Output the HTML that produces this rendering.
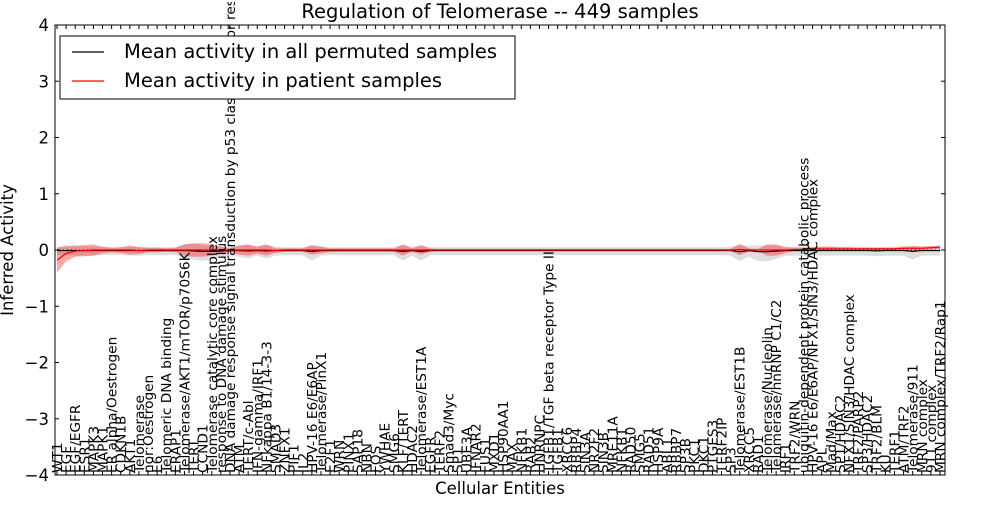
<!DOCTYPE html>
<html><head><meta charset="utf-8"><style>
body{margin:0;background:#fff;}
svg text{font-family:"DejaVu Sans","Liberation Sans",sans-serif;}
</style></head><body>
<svg id="chart" width="1000" height="500" xmlns="http://www.w3.org/2000/svg">
<rect x="0" y="0" width="1000" height="500" fill="#fff"/>
<g id="bands"></g><g id="lines"></g>
<g id="axes"></g><g id="xlabels"></g>
<rect x="0" y="0" width="1000" height="2" fill="#fff"/>
<text x="500" y="18" font-size="19.5" text-anchor="middle">Regulation of Telomerase -- 449 samples</text>
<text transform="translate(13,250) rotate(-90)" font-size="16.5" text-anchor="middle">Inferred Activity</text>
<text x="500" y="494" font-size="16.5" text-anchor="middle">Cellular Entities</text>
<g>
<rect x="60" y="36" width="455" height="63" fill="#fff" stroke="#000" stroke-width="1"/>
<line x1="72" y1="52" x2="104" y2="52" stroke="#000" stroke-width="1.2"/>
<text x="124" y="58" font-size="19.5">Mean activity in all permuted samples</text>
<line x1="72" y1="81" x2="104" y2="81" stroke="#f00" stroke-width="1.2"/>
<text x="124" y="87" font-size="19.5">Mean activity in patient samples</text>
</g>
</svg>
<script>
const labels=["WT1","EGF","EGF/EGFR","ESR1","MAPK3","MAPK1","ER alpha/Oestrogen","CDKN1B","AKT1","Telomerase","nor:Oestrogen","E6","Telomeric DNA binding","ERAP1","Telomerase/AKT1/mTOR/p70S6K","TERT","CCND1","Telomerase catalytic core complex","response to DNA damage stimulus","DNA damage response signal transduction by p53 class mediator resulting","ATM","TERT/c-Abl","IFN-gamma/IRF1","NFkappa B1/14-3-3","SMAD3","ZNFX1","PIF1","IL2","HPV-16 E6/E6AP","Telomerase/PinX1","E2F1","WRN","PINX1","SAP18","NBN","FOS","YWHAE","SMG6","KLF/TERT","HDAC2","Telomerase/EST1A","EGFR","TERF2","Smad3/Myc","SP1","UBE3A","IFNAR2","FUS1","MXD1","HSP90AA1","MAX","NFKB1","RAB2","HNRNPC","TGFB1/TGF beta receptor Type II","TGFB1","XRCC6","RBBP4","SIN3A","NR2F2","SIN3B","MRE11A","NFKB1","RAD50","SMG5","RAD51","HSP9A","ABL1","RBBP7","SP3B","PKC1","DKC1","PTGES3","TERF2IP","SP3","Telomerase/EST1B","XRCC5","RAD1","Telomerase/Nucleolin","Telomerase/hnRNP C1/C2","IRF1","TRF2/WRN","ubiquitin-dependent protein catabolic process","HPV-16 E6/E6AP/NFX1/SIN3/HDAC complex","APL","Mad/Max","SP1/HDAC2","NFX1/SIN3/HDAC complex","TRF2/PARP2","SP3/HDAC2","TRF2/BLM","KU","TERF1","ATM/TRF2","Telomerase/911","MRN complex","911 complex","MRN complex/TRF2/Rap1"];
const patientMean=[-0.18,-0.06,-0.02,-0.01,0,0,0,0,0,-0.01, 0,0,0,0,0,0,0,0,0,0, 0,0,0,0,-0.01,0,0,0,0,0, 0,0,0,0,0,0,0,0,0,0, 0,0,0,0,0,0,0,0,0,0, 0,0,0,0,0,0,0,0,0,0, 0,0,0,0,0,0,0,0,0,0, 0,0,0,0,0,0.01,0,0,0,0, 0,0.01,0.01,0.02,0.02,0.02,0.02,0.02,0.02,0.02, 0.02,0.02,0.02,0.03,0.03,0.03,0.04,0.05];
const patientSpread=[0.22,0.14,0.1,0.1,0.1,0.06,0.04,0.05,0.08,0.06, 0.04,0.04,0.03,0.04,0.1,0.12,0.12,0.1,0.06,0.03, 0.08,0.1,0.06,0.1,0.04,0.03,0.03,0.03,0.08,0.06, 0.03,0.03,0.03,0.03,0.03,0.03,0.03,0.03,0.1,0.03, 0.08,0.03,0.02,0.02,0.02,0.02,0.02,0.02,0.02,0.02, 0.02,0.02,0.02,0.02,0.02,0.02,0.02,0.02,0.02,0.02, 0.02,0.02,0.02,0.02,0.02,0.02,0.02,0.02,0.02,0.02, 0.02,0.02,0.02,0.02,0.02,0.1,0.03,0.02,0.1,0.1, 0.05,0.03,0.03,0.03,0.04,0.04,0.03,0.03,0.02,0.02, 0.02,0.02,0.02,0.03,0.04,0.03,0.03,0.03];
const permMean=[-0.02,-0.02,-0.02,-0.02,-0.02,-0.02,-0.02,-0.02,-0.02,-0.02, -0.02,-0.02,-0.02,-0.02,-0.02,-0.03,-0.05,-0.05,-0.04,-0.02, -0.02,-0.03,-0.02,-0.03,-0.02,-0.02,-0.02,-0.02,-0.05,-0.02, -0.02,-0.02,-0.02,-0.02,-0.02,-0.02,-0.02,-0.02,-0.05,-0.02, -0.05,-0.02,-0.02,-0.02,-0.02,-0.02,-0.02,-0.02,-0.02,-0.02, -0.02,-0.02,-0.02,-0.02,-0.02,-0.02,-0.02,-0.02,-0.02,-0.02, -0.02,-0.02,-0.02,-0.02,-0.02,-0.02,-0.02,-0.02,-0.02,-0.02, -0.02,-0.02,-0.02,-0.02,-0.02,-0.06,-0.02,-0.06,-0.06,-0.04, -0.02,-0.02,-0.02,-0.02,-0.02,-0.02,-0.02,-0.02,-0.02,-0.02, -0.03,-0.02,-0.02,-0.02,-0.05,-0.02,-0.02,-0.02];
const permSpread=[0.07,0.07,0.08,0.08,0.08,0.07,0.07,0.07,0.08,0.08, 0.07,0.07,0.07,0.07,0.12,0.14,0.14,0.12,0.1,0.08, 0.1,0.12,0.08,0.12,0.08,0.07,0.07,0.07,0.14,0.08, 0.07,0.07,0.07,0.07,0.07,0.07,0.07,0.07,0.14,0.08, 0.14,0.07,0.07,0.07,0.07,0.07,0.07,0.07,0.07,0.07, 0.07,0.07,0.07,0.07,0.07,0.07,0.07,0.07,0.07,0.07, 0.07,0.07,0.07,0.07,0.07,0.07,0.07,0.07,0.07,0.07, 0.07,0.07,0.07,0.07,0.08,0.14,0.1,0.14,0.14,0.12, 0.08,0.08,0.08,0.08,0.08,0.08,0.08,0.08,0.08,0.08, 0.08,0.08,0.08,0.08,0.12,0.08,0.08,0.08];
const yTicks=[-4,-3,-2,-1,0,1,2,3,4];

const NS="http://www.w3.org/2000/svg";
const L=55,R=945,T=25,B=475;
const n=labels.length;
const x0=57,x1=940;
function xs(i){return x0+i*(x1-x0)/(n-1);}
function ys(v){return T+(4-v)*(B-T)/8;}
function mk(tag,attrs,parent){const e=document.createElementNS(NS,tag);for(const k in attrs)e.setAttribute(k,attrs[k]);parent.appendChild(e);return e;}
const bands=document.getElementById('bands'),lines=document.getElementById('lines'),axes=document.getElementById('axes'),xl=document.getElementById('xlabels');
function bandPath(m,s){let up=[],dn=[];for(let i=0;i<n;i++){up.push(xs(i)+','+ys(m[i]+s[i]));dn.unshift(xs(i)+','+ys(m[i]-s[i]));}return 'M'+up.join('L')+'L'+dn.join('L')+'Z';}
function linePath(m){let p=[];for(let i=0;i<n;i++)p.push(xs(i)+','+ys(m[i]));return 'M'+p.join('L');}
const pb=mk('path',{d:bandPath(permMean,permSpread),fill:'#c8c8c8','fill-opacity':'0.6',stroke:'none'},bands);


const rb=mk('path',{d:bandPath(patientMean,patientSpread),fill:'#f00','fill-opacity':'0.35',stroke:'none'},bands);


const zl=mk('line',{x1:L,x2:R,y1:ys(0),y2:ys(0),stroke:'#000','stroke-width':1,'stroke-dasharray':'1,3'},lines);


const pl=mk('path',{d:linePath(permMean.map((v,i)=>v*0.5)),fill:'none',stroke:'#000','stroke-width':1.2},lines);


const rl=mk('path',{d:linePath(patientMean),fill:'none',stroke:'#f00','stroke-width':1.2},lines);


const fr=mk('rect',{x:L,y:T,width:R-L,height:B-T,fill:'none',stroke:'#000','stroke-width':1},axes);


yTicks.forEach(v=>{
  const y=ys(v);
  mk('line',{x1:L,x2:L+4,y1:y,y2:y,stroke:'#000'},axes);
  mk('line',{x1:R-4,x2:R,y1:y,y2:y,stroke:'#000'},axes);
  const t=mk('text',{x:L-6,y:y+6,'font-size':16.5,'text-anchor':'end'},axes);
  t.textContent=(v<0?'\u2212'+(-v):String(v));
  
  
});
labels.forEach((lab,i)=>{
  const x=xs(i);
  mk('line',{x1:x,x2:x,y1:B,y2:B-4,stroke:'#000'},axes);
  mk('line',{x1:x,x2:x,y1:T,y2:T+4,stroke:'#000'},axes);
  const t=mk('text',{transform:'translate('+(x+5)+','+(B-2)+') rotate(-90)','font-size':13.7},xl);
  t.textContent=lab;
  
  
});
</script>
</body></html>
